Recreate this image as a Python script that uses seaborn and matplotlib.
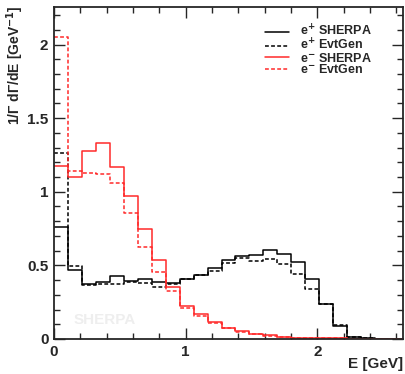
import numpy as np
import pandas as pd
import matplotlib
matplotlib.use("Agg")
import matplotlib.pyplot as plt
import seaborn as sns
from matplotlib.ticker import MultipleLocator

sns.set_style("ticks")
plt.rcParams['font.family'] = ['Liberation Sans', 'DejaVu Sans']
plt.rcParams['font.weight'] = 'bold'
plt.rcParams['mathtext.default'] = 'bf'

# bin edges: 25 bins from 0 to 2.65 GeV
edges = [round(0.106 * i, 3) for i in range(26)]
centers = [0.5 * (a + b) for a, b in zip(edges[:-1], edges[1:])]

eplus_sherpa = [0.763, 0.469, 0.371, 0.385, 0.428, 0.396, 0.405, 0.385, 0.378, 0.405,
                0.435, 0.480, 0.535, 0.562, 0.571, 0.607, 0.575, 0.525, 0.405, 0.238,
                0.090, 0.011, 0.005, 0.003, 0.001]
eplus_evtgen = [1.26, 0.498, 0.367, 0.371, 0.371, 0.385, 0.378, 0.355, 0.371, 0.405,
                0.435, 0.464, 0.514, 0.553, 0.530, 0.541, 0.507, 0.440, 0.342, 0.238,
                0.095, 0.011, 0.005, 0.003, 0.001]
eminus_sherpa = [1.177, 1.10, 1.279, 1.329, 1.17, 0.971, 0.75, 0.537, 0.351, 0.224,
                 0.170, 0.113, 0.072, 0.057, 0.034, 0.025, 0.015, 0.010, 0.008, 0.006,
                 0.004, 0.003, 0.002, 0.001, 0.001]
eminus_evtgen = [2.05, 1.14, 1.126, 1.12, 1.06, 0.854, 0.623, 0.453, 0.328, 0.213,
                 0.156, 0.110, 0.075, 0.045, 0.034, 0.022, 0.014, 0.010, 0.007, 0.005,
                 0.004, 0.003, 0.002, 0.001, 0.001]

labels = ["e$^{+}$ SHERPA", "e$^{+}$ EvtGen", "e$^{-}$ SHERPA", "e$^{-}$ EvtGen"]
series = [eplus_sherpa, eplus_evtgen, eminus_sherpa, eminus_evtgen]
colors = ["black", "black", "#ff2a2a", "#ff2a2a"]
styles = ["-", (0, (2.5, 1.5)), "-", (0, (2.5, 1.5))]

fig = plt.figure(figsize=(4.06, 3.74), dpi=100)
ax = fig.add_axes([54/406, 35/374, 349/406, 332/374])

for lab, vals, col, ls in zip(labels, series, colors, styles):
    df = pd.DataFrame({"E": centers, "w": vals})
    sns.histplot(data=df, x="E", weights="w", bins=edges, element="step",
                 fill=False, color=col, linestyle=ls, linewidth=1.1, ax=ax, label=lab)

ax.set_xlim(0, 2.65)
ax.set_ylim(0, 2.255)
ax.xaxis.set_minor_locator(MultipleLocator(0.2))
ax.yaxis.set_minor_locator(MultipleLocator(0.1))
ax.set_xticks([0, 1, 2])
ax.set_xticklabels(["0", "1", "2"])
ax.set_yticks([0, 0.5, 1, 1.5, 2])
ax.set_yticklabels(["0", "0.5", "1", "1.5", "2"])
ax.tick_params(which="both", direction="in", top=True, right=True, labelsize=11, width=1)
ax.tick_params(which="major", length=8, pad=4)
ax.tick_params(which="minor", length=4)
for s in ax.spines.values():
    s.set_linewidth(1.3)

ax.set_xlabel("E [GeV]", fontsize=11, fontweight="bold", ha="right", va="top")
ax.xaxis.set_label_coords(1.0, -0.055)
ax.set_ylabel("1/Γ dΓ/dE [GeV$^{-1}$]", fontsize=10, fontweight="bold", ha="right")
ax.yaxis.set_label_coords(-0.08, 1.005)

ax.text(0.055, 0.045, "SHERPA", transform=ax.transAxes, fontsize=11, fontweight="bold",
        color="#eeeeee", zorder=0)

leg = ax.legend(loc="upper left", bbox_to_anchor=(0.605, 0.95), frameon=False, fontsize=9,
                handlelength=1.9, labelspacing=-0.1, handletextpad=0.9, borderaxespad=0,
                borderpad=0)

fig.savefig("out.png", dpi=100)
